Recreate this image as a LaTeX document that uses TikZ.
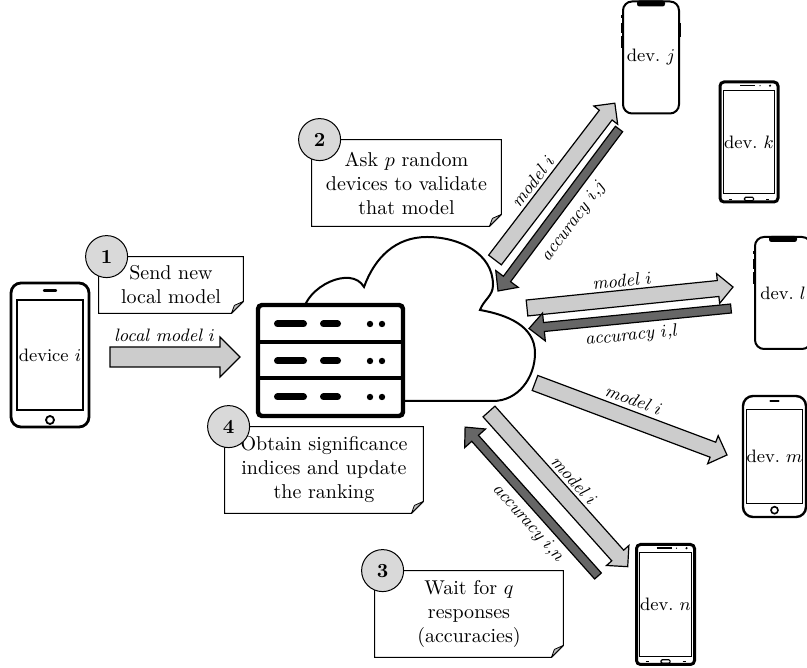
\documentclass[tikz,border=0pt]{standalone}
\usetikzlibrary{calc}

\begin{document}
\begin{tikzpicture}[
x=.5pt, y=.5pt,
modelarrow/.style={fill=black!20, draw=black, line width=.6pt},
accarrow/.style={fill=black!60, draw=black, line width=.6pt},
lbl/.style={font=\small\itshape, sloped, inner sep=2pt},
cloud/.style={draw, fill=white, line width=1pt},
rack/.style={draw, line width=2.2pt, rounded corners=2pt},
slot/.style={line width=3.5pt, line cap=round},
phone/.style={draw, line width=1.4pt, rounded corners=5pt, fill=white, inner sep=0pt},
notchphone/.style={draw, line width=1pt, rounded corners=4.5pt, fill=white, minimum width=28pt, minimum height=56pt, inner sep=0pt, font=\small},
droid/.style={draw, line width=1.5pt, rounded corners=2pt, fill=white, minimum width=29pt, minimum height=60pt, inner sep=0pt},
screen/.style={draw, line width=.9pt, inner sep=0pt, font=\small},
note/.style={align=center, inner sep=0pt},
notebox/.style={draw, line width=.5pt},
fold/.style={draw, fill=black!25, line width=.4pt, line join=round},
badge/.style={circle, draw, fill=black!15, line width=.5pt, minimum size=21pt, inner sep=0pt, font=\bfseries}
]

\useasboundingbox (0,0) rectangle (807,668);

%% Cloud and server
\draw[cloud] (303,355) to[out=85,in=120] (364,381)
  to[out=70,in=180] (427,431) to[out=0,in=90] (493,383) to[out=-90,in=70] (480,358)
  to[out=-10,in=90] (535,315) to[out=-90,in=0] (493,267) -- (395,267);

\draw[rack, fill=white] (258,252) rectangle (403,363);
\draw[rack, rounded corners=0pt] (258,290) -- (403,290) (258,326) -- (403,326);
\foreach \y in {344,307,271}{
\draw[slot] (277.5,\y) -- (303.5,\y) (323.5,\y) -- (337.5,\y);
\fill (370,\y) circle (1.6pt) (382,\y) circle (1.6pt);
}

%% Arrow ends
\coordinate (m0t) at (110,311);   \coordinate (m0h) at (240,311);
\coordinate (m1t) at (495,408);   \coordinate (m1h) at (615,565);
\coordinate (a1t) at (619,539);   \coordinate (a1h) at (498,377);
\coordinate (m2t) at (527,360);   \coordinate (m2h) at (733,381);
\coordinate (a2t) at (731,359.5); \coordinate (a2h) at (529,339.5);
\coordinate (m3t) at (535,285);   \coordinate (m3h) at (727,213);
\coordinate (m4t) at (489,256.5); \coordinate (m4h) at (628,101);
\coordinate (a4t) at (598,92);    \coordinate (a4h) at (465,241);

% block arrows: tail/head/style/half shaft/half head/head length
\foreach \ptail/\phead/\pfill/\shaft/\headw/\headl in {m0t/m0h/modelarrow/5/10/10,
  m1t/m1h/modelarrow/4/7.5/7.5, a1t/a1h/accarrow/2.25/7/7.5,
  m2t/m2h/modelarrow/4/7.5/7.5, a2t/a2h/accarrow/2.25/7/7.5,
  m3t/m3h/modelarrow/4/7.5/7.5, m4t/m4h/modelarrow/4/7.5/7.5,
  a4t/a4h/accarrow/2.25/7/7.5}{
\draw[\pfill] let \p1=(\ptail), \p2=(\phead), \n1={atan2(\y2-\y1,\x2-\x1)}, \n2={veclen(\x2-\x1,\y2-\y1)} in
  [shift={(\p1)}, rotate=\n1] (0pt,-\shaft pt) -- (\n2-\headl pt,-\shaft pt) -- (\n2-\headl pt,-\headw pt)
  -- (\n2,0pt) -- (\n2-\headl pt,\headw pt) -- (\n2-\headl pt,\shaft pt) -- (0pt,\shaft pt) -- cycle;
}

\path (m0t) -- (m0h) node[lbl, pos=.42, above=5.5pt] (l0) {local model $i$};
\path (m1t) -- (m1h) node[lbl, pos=.43, above=3.5pt] (l1) {model $i$};
\path (a1h) -- (a1t) node[lbl, pos=.5, below=3.5pt] (l2) {accuracy $i$,$j$};
\path (m2t) -- (m2h) node[lbl, pos=.47, above=3.5pt] (l3) {model $i$};
\path (a2h) -- (a2t) node[lbl, pos=.5, below=2.5pt] (l4) {accuracy $i$,$l$};
\path (m3t) -- (m3h) node[lbl, pos=.48, above=4pt] (l5) {model $i$};
\path (m4t) -- (m4h) node[lbl, pos=.52, above=3.5pt] (l6) {model $i$};
\path (a4h) -- (a4t) node[lbl, pos=.57, below=2.5pt] (l7) {accuracy $i$,$n$};

%% Phones
\node[phone, minimum width=39pt, minimum height=72pt] (devi) at (50,313) {};
\node[screen, minimum width=33pt, minimum height=55pt] (devi scr) at (devi) {device $i$};
\draw[line width=1.2pt, line cap=round] ([yshift=-4.5pt]devi.north) +(-3pt,0) -- +(3pt,0);
\draw[line width=.9pt] ([yshift=4.2pt]devi.south) circle (2pt);

\node[phone, line width=1.2pt, minimum width=31.5pt, minimum height=60.5pt] (devm) at (774.5,211.5) {};
\node[screen, minimum width=27.5pt, minimum height=47pt] (devm scr) at (devm) {dev.~$m$};
\draw[line width=1.1pt, line cap=round] ([yshift=-3.2pt]devm.north) +(-2pt,0) -- +(2pt,0);
\draw[line width=.8pt] ([yshift=4pt]devm.south) circle (1.75pt);

\node[notchphone] (devj) at (651,610.5) {dev.~$j$};
\node[notchphone] (devl) at (783,375) {dev.~$l$};
\foreach \p in {devj,devl}{
\fill[rounded corners=1.2pt] ([xshift=-7pt]\p.north) -- ++(0,-3pt) -- ++(14pt,0) -- ++(0,3pt) -- cycle;
\draw[line width=1.3pt] ([yshift=-7.5pt]\p.north west) -- ++(0,-1.5pt)
  ([yshift=-11.5pt]\p.north west) -- ++(0,-5pt)
  ([yshift=-18pt]\p.north west) -- ++(0,-6pt)
  ([yshift=-11.5pt]\p.north east) -- ++(0,-7pt);
}

\node[droid] (devk) at (749,526) {};
\node[screen, line width=.7pt, minimum width=25.5pt, minimum height=51.5pt] (devk scr) at (devk) {dev.~$k$};
\node[droid] (devn) at (665.5,63.5) {};
\node[screen, line width=.7pt, minimum width=26pt, minimum height=52pt] (devn scr) at (devn) {dev.~$n$};
\foreach \p in {devk,devn}{
\draw[line width=.8pt] ([shift={(-4.5pt,-2.6pt)}]\p.north) -- ++(7.5pt,0);
\fill ([shift={(5.5pt,-2.6pt)}]\p.north) circle (.35pt) ([shift={(10.5pt,-2.6pt)}]\p.north) circle (.6pt);
\draw[line width=.6pt, rounded corners=.6pt] ([shift={(-2.3pt,1.4pt)}]\p.south) rectangle ([shift={(2.3pt,3.1pt)}]\p.south);
\draw[line width=.5pt] ([shift={(-10pt,2.2pt)}]\p.south) -- ++(1.5pt,0) ([shift={(8.5pt,2.2pt)}]\p.south) -- ++(1.5pt,0);
}

%% Notes
\node[note, minimum width=72pt, minimum height=28pt] (note1) at (171,383) {Send new\\local model};
\node[note, minimum width=94.5pt, minimum height=43pt] (note2) at (406.5,485) {Ask $p$ random\\devices to validate\\that model};
\node[note, minimum width=94pt, minimum height=43pt] (note3) at (469,54) {Wait for $q$\\responses\\(accuracies)};
\node[note, minimum width=99pt, minimum height=43pt] (note4) at (324,198) {Obtain significance\\indices and update\\the ranking};
\foreach \n in {note1,note2,note3,note4}{
\draw[notebox] (\n.north west) -- (\n.north east) -- ([yshift=6pt]\n.south east) -- ([xshift=-6pt]\n.south east) -- (\n.south west) -- cycle;
\draw[fold] ([yshift=6pt]\n.south east) -- ([xshift=-6pt]\n.south east) -- ([shift={(-4.5pt,4pt)}]\n.south east) -- cycle;
}
\node[badge] (b1) at ([xshift=4pt]note1.north west) {1};
\node[badge] (b2) at ([xshift=4pt]note2.north west) {2};
\node[badge] (b3) at ([xshift=4pt]note3.north west) {3};
\node[badge] (b4) at ([xshift=2pt]note4.north west) {4};

\end{tikzpicture}
\end{document}
